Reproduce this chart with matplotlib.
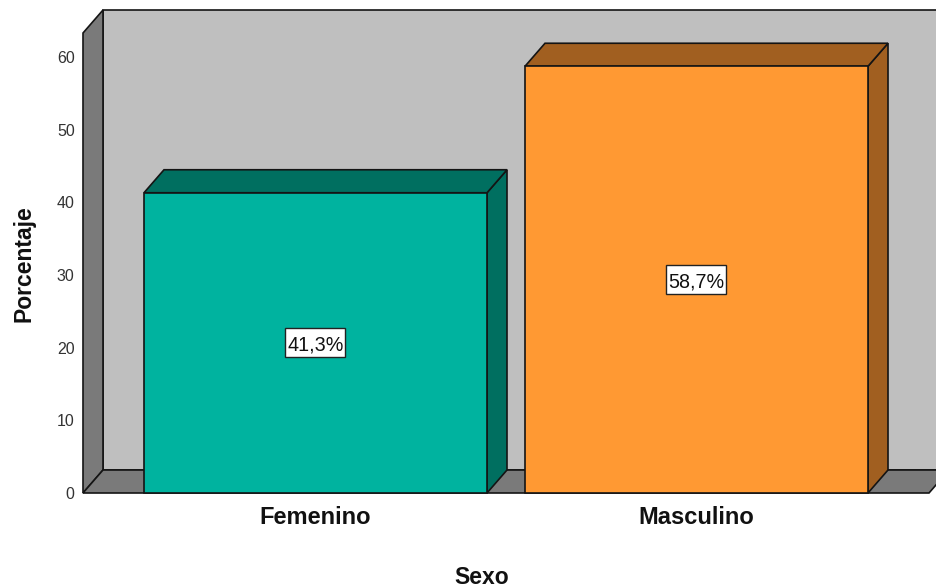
import matplotlib
matplotlib.use('Agg')
import matplotlib.pyplot as plt
from matplotlib.patches import Polygon, Rectangle

categories = ['Femenino', 'Masculino']
values = [41.3, 58.7]
labels = ['41,3%', '58,7%']
yticks = [0, 10, 20, 30, 40, 50, 60]

front_colors = ['#00b39f', '#ff9933']
side_colors = ['#006f60', '#a15f20']

plt.rcParams['font.family'] = ['Liberation Sans', 'DejaVu Sans']

W, H = 937, 588
fig = plt.figure(figsize=(W / 100, H / 100), dpi=100)

# ejes = cara frontal del grafico, en pixeles de la imagen
left, right, bottom, top = 83, 929, 493, 33
ax = fig.add_axes([left / W, 1 - bottom / H, (right - left) / W, (bottom - top) / H])

px_cat = 381.0   # pixeles entre categorias
px_val = 7.27    # pixeles por unidad
x0 = -(315.5 - left) / px_cat
x1 = x0 + (right - left) / px_cat
y1 = (bottom - top) / px_val
ax.set_xlim(x0, x1)
ax.set_ylim(0, y1)

dx = 20 / px_cat
dy = 23 / px_val
bar_w = 343 / px_cat
box_w = 60 / px_cat
box_h = 29 / px_val
edge = '#141414'
lw = 1.2


def poly(pts, color, z):
    ax.add_patch(Polygon(pts, closed=True, facecolor=color, edgecolor=edge,
                         linewidth=lw, zorder=z, clip_on=False, joinstyle='miter'))


# paredes
poly([(x0 + dx, dy), (x1 + dx, dy), (x1 + dx, y1 + dy), (x0 + dx, y1 + dy)], '#bfbfbf', 1)
poly([(x0, 0), (x0 + dx, dy), (x0 + dx, y1 + dy), (x0, y1)], '#7a7a7a', 2)
poly([(x0, 0), (x1, 0), (x1 + dx, dy), (x0 + dx, dy)], '#7a7a7a', 2)

# barras 3D
for i, v in enumerate(values):
    a = i - bar_w / 2
    b = i + bar_w / 2
    poly([(b, 0), (b + dx, dy), (b + dx, v + dy), (b, v)], side_colors[i], 3)
    poly([(a, v), (b, v), (b + dx, v + dy), (a + dx, v + dy)], side_colors[i], 3)
    poly([(a, 0), (b, 0), (b, v), (a, v)], front_colors[i], 4)
    ax.add_patch(Rectangle((i - box_w / 2, v / 2 - box_h / 2), box_w, box_h, facecolor='white',
                           edgecolor='#222222', linewidth=1.0, zorder=5))
    ax.text(i, v / 2, labels[i], ha='center', va='center_baseline', fontsize=14.2, color='#111111', zorder=6)

for s in ax.spines.values():
    s.set_visible(False)
ax.patch.set_visible(False)

ax.set_yticks(yticks)
ax.set_xticks(range(len(categories)))
ax.set_xticklabels(categories, fontsize=17, fontweight='bold', color='#111111')
ax.tick_params(axis='x', length=0, pad=9.5)
ax.tick_params(axis='y', length=0, pad=6, labelsize=11.5, labelcolor='#333333')

ax.set_xlabel('Sexo', fontsize=16.5, fontweight='bold', color='#111111')
ax.xaxis.set_label_coords((482 - left) / (right - left), -(577 - bottom) / (bottom - top), transform=ax.transAxes)
ax.xaxis.label.set_va('center')
ax.set_ylabel('Porcentaje', fontsize=16.5, fontweight='bold', color='#111111')
ax.yaxis.set_label_coords(-(left - 24) / (right - left), (bottom - 264) / (bottom - top), transform=ax.transAxes)
ax.yaxis.label.set_va('center')

fig.savefig('out.png', dpi=100)
